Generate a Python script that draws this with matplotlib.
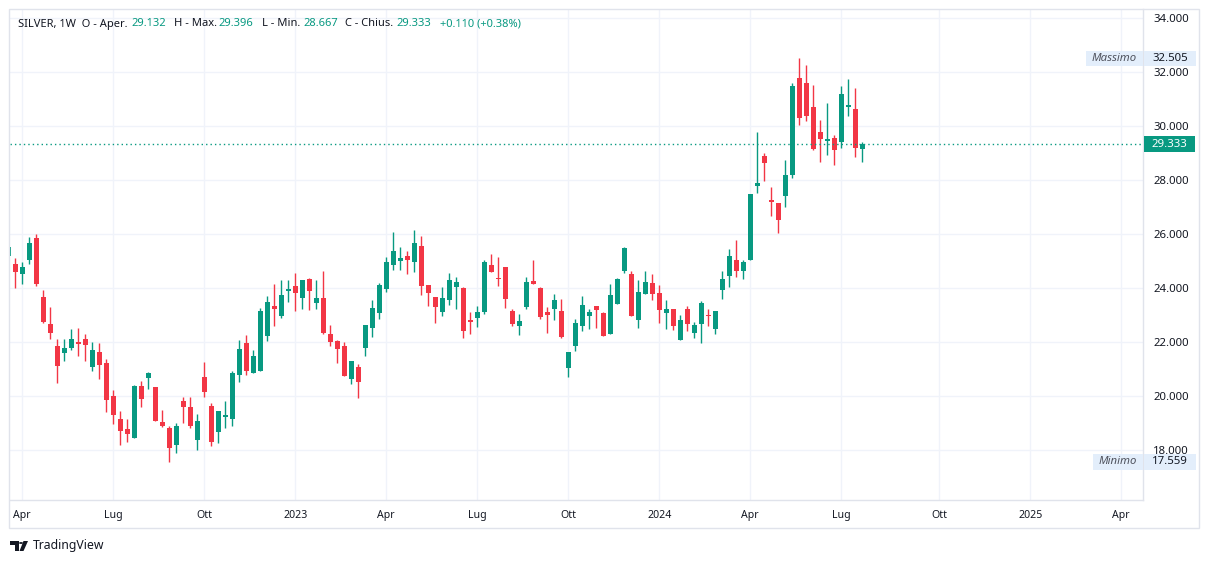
#!/usr/bin/env python3
"""
SILVER 1W candlestick chart, TradingView look
"""

import numpy as np
import matplotlib.pyplot as plt
from matplotlib.patches import Rectangle, Polygon, Circle
from matplotlib.transforms import blended_transform_factory

plt.rcParams['font.family'] = ['Noto Sans', 'DejaVu Sans']

# weekly candles, from the week of 21 Mar 2022 to 22 Jul 2024
opens = [25.20, 24.89, 24.53, 25.05, 25.85, 23.67, 22.67, 21.85, 21.61, 21.79,
         22.00, 22.11, 21.09, 21.63, 21.22, 20.00, 19.15, 18.78, 18.46, 20.37,
         20.68, 20.33, 19.04, 18.81, 18.20, 19.81, 19.61, 18.38, 20.70, 19.63,
         18.68, 19.23, 19.16, 20.79, 21.96, 20.86, 20.94, 22.23, 23.33, 22.98,
         23.90, 24.07, 23.64, 24.33, 23.46, 23.63, 22.30, 22.04, 21.85, 20.64,
         21.07, 21.79, 22.53, 23.09, 23.98, 24.86, 25.00, 25.19, 24.96, 25.56,
         24.11, 23.67, 23.12, 23.57, 24.05, 24.00, 22.83, 22.90, 23.12, 24.85,
         24.37, 24.78, 23.15, 22.61, 23.31, 24.26, 24.00, 23.11, 23.23, 23.16,
         21.05, 21.86, 22.61, 22.98, 23.33, 23.07, 22.31, 23.42, 24.64, 24.52,
         22.83, 23.79, 24.19, 23.82, 23.09, 23.22, 22.09, 23.22, 22.35, 22.68,
         23.00, 22.49, 23.94, 24.46, 25.04, 24.64, 25.05, 27.79, 28.89, 27.22,
         27.15, 27.42, 28.20, 31.78, 31.59, 30.70, 29.78, 29.46, 29.56, 29.42,
         30.72, 30.63, 29.132]
highs = [25.60, 25.11, 24.96, 25.89, 26.00, 23.93, 23.30, 22.11, 22.11, 22.48,
         22.52, 22.30, 22.00, 21.96, 21.37, 20.22, 19.44, 19.15, 20.42, 20.56,
         20.90, 20.35, 19.48, 18.90, 19.00, 19.98, 19.98, 19.33, 21.26, 19.73,
         19.44, 19.81, 20.93, 22.07, 22.26, 21.70, 23.26, 23.70, 24.15, 24.30,
         24.30, 24.56, 24.30, 24.37, 24.30, 24.63, 22.63, 22.08, 22.00, 21.30,
         21.19, 22.63, 23.56, 24.19, 25.15, 26.07, 25.52, 25.37, 26.15, 25.93,
         24.11, 23.67, 24.04, 24.56, 24.41, 24.04, 23.12, 23.35, 25.04, 25.26,
         25.15, 24.78, 23.22, 23.05, 24.41, 25.04, 24.04, 23.30, 23.78, 23.59,
         21.63, 22.85, 23.70, 23.23, 23.33, 23.11, 24.15, 24.37, 25.52, 24.63,
         24.30, 24.63, 24.52, 24.11, 23.56, 23.22, 23.01, 23.33, 22.74, 23.52,
         23.22, 23.15, 24.63, 25.44, 25.78, 25.04, 27.48, 29.78, 29.00, 27.74,
         27.15, 28.74, 31.59, 32.505, 32.26, 31.52, 30.22, 30.85, 29.67, 31.48,
         31.74, 31.41, 29.396]
lows = [25.10, 24.01, 24.16, 24.90, 24.09, 22.72, 22.12, 20.49, 21.31, 21.72,
        21.49, 21.31, 20.93, 20.64, 19.42, 18.98, 18.20, 18.31, 18.46, 19.61,
        20.26, 19.07, 18.85, 17.559, 17.90, 19.00, 18.83, 18.00, 19.98, 18.16,
        18.27, 18.83, 18.90, 20.53, 20.79, 20.86, 20.94, 22.05, 22.60, 22.90,
        23.49, 23.16, 23.23, 23.20, 23.21, 22.31, 21.86, 21.24, 20.75, 20.46,
        19.94, 21.49, 22.20, 22.86, 23.86, 24.68, 24.68, 24.52, 24.61, 23.75,
        23.35, 22.72, 22.98, 23.38, 23.23, 22.16, 22.31, 22.57, 23.05, 24.61,
        24.09, 23.27, 22.61, 22.27, 23.23, 24.16, 22.86, 22.35, 22.83, 22.16,
        20.72, 21.68, 22.42, 22.49, 22.53, 22.23, 22.31, 23.42, 24.57, 22.98,
        22.53, 23.79, 23.57, 22.72, 22.49, 22.46, 22.09, 22.42, 22.16, 21.98,
        22.59, 22.31, 23.60, 24.05, 24.42, 24.35, 25.05, 27.53, 27.98, 26.68,
        26.05, 27.01, 28.09, 30.05, 30.20, 29.12, 28.68, 28.94, 28.57, 29.20,
        30.38, 28.86, 28.667]
closes = [25.53, 24.61, 24.78, 25.67, 24.16, 22.75, 22.35, 21.12, 21.78, 22.11,
          21.94, 21.90, 21.70, 21.16, 19.86, 19.31, 18.72, 18.61, 20.37, 19.90,
          20.85, 19.09, 18.90, 18.09, 18.89, 19.61, 18.90, 19.07, 20.16, 18.31,
          19.44, 19.30, 20.85, 21.74, 20.94, 21.48, 23.15, 23.48, 23.22, 23.74,
          23.96, 23.82, 24.30, 23.90, 23.63, 22.35, 22.01, 21.75, 20.75, 21.30,
          20.53, 22.63, 23.26, 24.11, 24.96, 25.37, 25.11, 25.04, 25.67, 24.06,
          23.83, 23.31, 23.63, 24.30, 24.22, 22.42, 22.75, 23.12, 24.96, 24.61,
          24.33, 23.60, 22.68, 22.79, 24.22, 24.16, 22.94, 23.01, 23.56, 22.20,
          21.63, 22.70, 23.37, 23.11, 23.20, 22.23, 23.74, 24.33, 25.48, 22.98,
          23.85, 24.22, 23.79, 23.20, 23.22, 22.61, 22.83, 22.68, 22.63, 23.44,
          22.95, 23.15, 24.33, 25.19, 24.64, 24.96, 27.48, 27.89, 28.64, 27.20,
          26.53, 28.19, 31.48, 30.31, 30.38, 29.16, 29.53, 29.52, 29.12, 31.19,
          30.78, 29.20, 29.333]

# time axis (bar index of the first week of each period)
tick_pos = [2, 15, 28, 41, 54, 67, 80, 93, 106, 119, 133, 146, 159]
tick_labels = ['Apr', 'Lug', 'Ott', '2023', 'Apr', 'Lug', 'Ott', '2024',
               'Apr', 'Lug', 'Ott', '2025', 'Apr']
price_ticks = [18, 20, 22, 24, 26, 28, 30, 32, 34]

header = [('SILVER, 1W  O - Aper.', 17.5), ('29.132', 131), ('H - Max.', 173.5),
          ('29.396', 218), ('L - Min.', 262), ('28.667', 303),
          ('C - Chius.', 345), ('29.333', 396), ('+0.110 (+0.38%)', 440)]

TEAL = '#089981'
RED = '#f23645'
DARK = '#131722'
BORDER = '#e0e3eb'
GRID = '#f0f3fa'

W, H = 1209, 564


def fx(px):
    return px / W


def fy(py):
    return 1 - py / H


fig = plt.figure(figsize=(W / 100, H / 100), dpi=100)
fig.patch.set_facecolor('white')

ax = fig.add_axes([fx(10), fy(500), fx(1143) - fx(10), fy(9) - fy(500)])

o = np.array(opens)
h = np.array(highs)
l = np.array(lows)
c = np.array(closes)
x = np.arange(len(o))
colors = np.where(c >= o, TEAL, RED)

ymin, ymax = 16.148, 34.333
upp = (ymax - ymin) / 491.0  # price units per pixel

ax.vlines(x, l, h, colors=colors, lw=1, zorder=3)
body_low = np.minimum(o, c)
body_h = np.maximum(np.abs(c - o), upp * 1.2)
ax.bar(x, body_h, bottom=body_low, width=0.68, color=colors, linewidth=0, zorder=4)

ax.set_xlim(0.243, 162.1)
ax.set_ylim(ymin, ymax)

ax.set_xticks(tick_pos)
ax.set_xticklabels(tick_labels)
ax.set_yticks(price_ticks)
ax.set_yticklabels([f'{v:.3f}' for v in price_ticks])
ax.yaxis.tick_right()
ax.grid(True, color=GRID, lw=1, zorder=0)
ax.tick_params(axis='x', length=0, pad=7, labelsize=7.6, colors=DARK)
ax.tick_params(axis='y', length=0, pad=7.5, labelsize=8.2, colors=DARK)
for lab in ax.get_xticklabels():
    if lab.get_text().isdigit():
        lab.set_fontweight('bold')

for side in ['top', 'left']:
    ax.spines[side].set_visible(False)
for side in ['bottom', 'right']:
    ax.spines[side].set_color(BORDER)
    ax.spines[side].set_linewidth(1)

# last price line
last = closes[-1]
ax.axhline(last, color=TEAL, lw=1, linestyle=(0, (1, 2.2)), zorder=5)

# outer frame
fig.add_artist(Rectangle((fx(9), fy(528)), fx(1199) - fx(9), fy(9) - fy(528),
                         transform=fig.transFigure, fill=False, ec=BORDER, lw=1))

# price axis labels
trans = blended_transform_factory(fig.transFigure, ax.transData)
half = 7.8 * upp


def price_box(x0, x1, value, text, fc, tc, weight='normal', style='normal'):
    fig.add_artist(Rectangle((fx(x0), value - half), fx(x1) - fx(x0), 2 * half,
                             transform=trans, fc=fc, ec='none', zorder=10))
    fig.text(fx((x0 + x1) / 2), value, text, transform=trans, ha='center', va='center',
             fontsize=8.2, color=tc, fontweight=weight, fontstyle=style, zorder=11)


hi = max(highs)
lo = min(lows)
price_box(1086, 1142.5, hi, 'Massimo', '#e3eefb', '#50535e', style='italic')
price_box(1144, 1196, hi, f'{hi:.3f}', '#e3eefb', DARK)
price_box(1092.5, 1142.5, lo, 'Minimo', '#e3eefb', '#50535e', style='italic')
price_box(1144, 1196, lo, f'{lo:.3f}', '#e3eefb', DARK)
price_box(1143.5, 1195, last, f'{last:.3f}', TEAL, 'white', weight='bold')

# header
for i, (txt, px) in enumerate(header):
    col = DARK if i % 2 == 0 and i < 8 else TEAL
    fig.text(fx(px), fy(24), txt, fontsize=8.0, color=col, va='center', ha='left')

# TradingView logo
fig.add_artist(Polygon([(fx(10), fy(541)), (fx(18.5), fy(541)), (fx(18.5), fy(551)),
                        (fx(14.5), fy(551)), (fx(14.5), fy(545)), (fx(10), fy(545))],
                       closed=True, transform=fig.transFigure, fc=DARK, ec='none'))
fig.add_artist(Circle((fx(21), fy(543)), fx(2), transform=fig.transFigure, fc=DARK, ec='none'))
fig.add_artist(Polygon([(fx(23.5), fy(541)), (fx(28), fy(541)), (fx(23.5), fy(551)),
                        (fx(19.5), fy(551))],
                       closed=True, transform=fig.transFigure, fc=DARK, ec='none'))
fig.text(fx(32.5), fy(546), 'TradingView', fontsize=8.8, color=DARK, va='center', ha='left')

fig.savefig('out.png', dpi=100)
